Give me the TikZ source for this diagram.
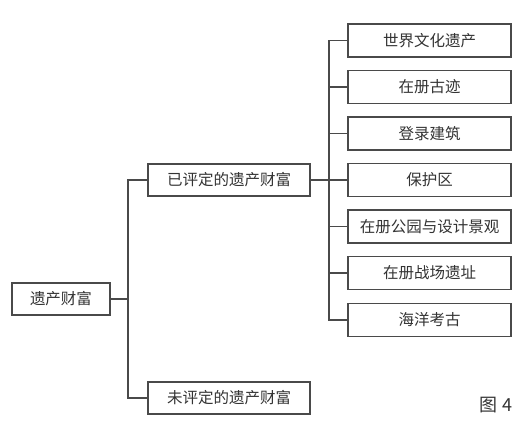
\documentclass[tikz,border=0pt]{standalone}
\usepackage{fontspec}
\newfontfamily\cjk{Noto Sans CJK SC}
\definecolor{linegray}{HTML}{4A4A4A}
\definecolor{textgray}{HTML}{333333}
\begin{document}
\begin{tikzpicture}[x=1pt,y=-1pt,
  box/.style={draw=linegray, line width=1.1pt, fill=white, text=textgray, font=\cjk\fontsize{15.5}{17}\selectfont, inner sep=0pt, anchor=center},
  rbox/.style={box, minimum width=163pt, minimum height=33pt},
  mbox/.style={box, minimum width=162pt, minimum height=32pt},
  link/.style={draw=linegray, line width=1.1pt}]
\useasboundingbox (0,0) rectangle (525,421);
\node[box, minimum width=98pt, minimum height=32pt] (root) at (61,299) {遗产财富};
\node[mbox] (rated) at (229,180) {已评定的遗产财富};
\node[mbox] (unrated) at (229,398) {未评定的遗产财富};
\node[rbox] (r1) at (429.5,40.5) {世界文化遗产};
\node[rbox] (r2) at (429.5,87) {在册古迹};
\node[rbox] (r3) at (429.5,133.5) {登录建筑};
\node[rbox] (r4) at (429.5,180) {保护区};
\node[rbox] (r5) at (429.5,226.5) {在册公园与设计景观};
\node[rbox] (r6) at (429.5,273) {在册战场遗址};
\node[rbox] (r7) at (429.5,320) {海洋考古};
\node[text=textgray, font=\cjk\fontsize{18}{20}\selectfont, inner sep=0pt] (fig) at (496,405) {图 4};
\coordinate (j1) at (128,299);
\coordinate (j2) at (329,180);
\draw[link] (root.east) -- (j1);
\draw[link] (rated.west) -| (j1) |- (unrated.west);
\draw[link] (rated.east) -- (j2);
\draw[link] (r1.west) -| (j2) |- (r7.west);
\foreach \n in {r2,r3,r4,r5,r6} \draw[link] (\n.west) -- (\n.west -| j2);
\end{tikzpicture}
\end{document}
